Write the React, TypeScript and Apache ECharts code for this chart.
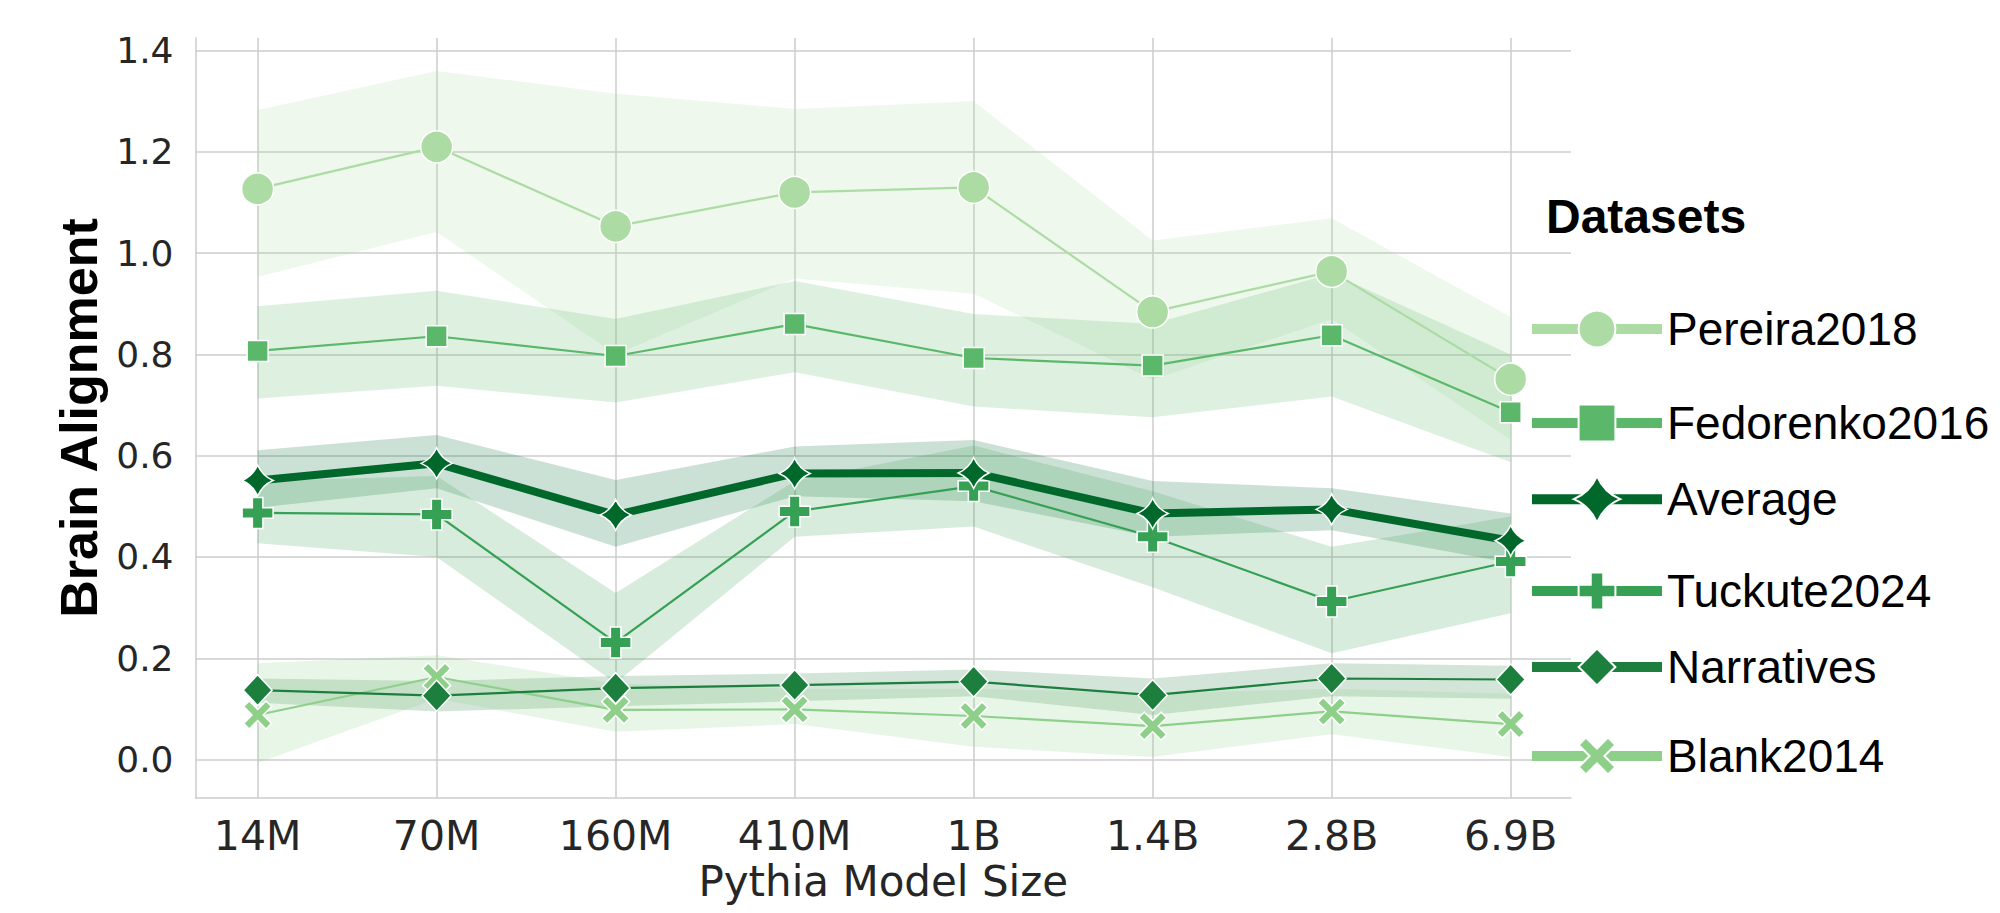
import React, { useEffect, useRef } from "react";
import * as echarts from "echarts";

// ---------------- data ----------------
const categories = ["14M", "70M", "160M", "410M", "1B", "1.4B", "2.8B", "6.9B"];
const yTickValues = [0, 0.2, 0.4, 0.6, 0.8, 1.0, 1.2, 1.4];

const seriesNames = ["Pereira2018", "Fedorenko2016", "Average", "Tuckute2024", "Narratives", "Blank2014"];

const pereiraMean = [1.127, 1.21, 1.053, 1.12, 1.13, 0.884, 0.964, 0.751];
const pereiraLow = [0.953, 1.042, 0.8, 0.95, 0.92, 0.75, 0.87, 0.631];
const pereiraHigh = [1.283, 1.36, 1.315, 1.285, 1.3, 1.025, 1.069, 0.874];

const fedorenkoMean = [0.807, 0.836, 0.797, 0.86, 0.793, 0.778, 0.838, 0.686];
const fedorenkoLow = [0.713, 0.738, 0.705, 0.765, 0.697, 0.676, 0.717, 0.587];
const fedorenkoHigh = [0.895, 0.926, 0.87, 0.945, 0.88, 0.86, 0.96, 0.8];

const averageMean = [0.551, 0.585, 0.483, 0.565, 0.566, 0.486, 0.494, 0.432];
const averageLow = [0.497, 0.536, 0.42, 0.52, 0.51, 0.44, 0.453, 0.388];
const averageHigh = [0.611, 0.641, 0.552, 0.618, 0.631, 0.55, 0.536, 0.486];

const tuckuteMean = [0.487, 0.484, 0.231, 0.49, 0.54, 0.44, 0.312, 0.391];
const tuckuteLow = [0.427, 0.4, 0.151, 0.44, 0.46, 0.34, 0.21, 0.289];
const tuckuteHigh = [0.55, 0.56, 0.329, 0.55, 0.62, 0.53, 0.42, 0.48];

const narrativesMean = [0.137, 0.126, 0.141, 0.147, 0.154, 0.127, 0.16, 0.158];
const narrativesLow = [0.112, 0.095, 0.105, 0.115, 0.125, 0.088, 0.125, 0.12];
const narrativesHigh = [0.16, 0.155, 0.165, 0.17, 0.178, 0.16, 0.19, 0.185];

const blankMean = [0.088, 0.163, 0.098, 0.099, 0.086, 0.066, 0.095, 0.07];
const blankLow = [-0.007, 0.12, 0.055, 0.07, 0.025, 0.005, 0.05, 0.005];
const blankHigh = [0.19, 0.206, 0.15, 0.14, 0.14, 0.13, 0.14, 0.13];

// ---------------- styles ----------------
const STAR = "path://M0,-10 Q3,-3 10,0 Q3,3 0,10 Q-3,3 -10,0 Q-3,-3 0,-10 Z";
const PLUS = "path://M-3.4,-10 L3.4,-10 L3.4,-3.4 L10,-3.4 L10,3.4 L3.4,3.4 L3.4,10 L-3.4,10 L-3.4,3.4 L-10,3.4 L-10,-3.4 L-3.4,-3.4 Z";
const CROSS = "path://M-10,-6 L-6,-10 L0,-4 L6,-10 L10,-6 L4,0 L10,6 L6,10 L0,4 L-6,10 L-10,6 L-4,0 Z";

const styleOf: Record<string, any> = {
  Pereira2018: { color: "#acdca4", symbol: "circle", size: 32, width: 2.2, z: 3 },
  Fedorenko2016: { color: "#5bb86a", symbol: "rect", size: 21, width: 2.2, z: 3 },
  Average: { color: "#00682b", symbol: STAR, size: 31, width: 8, z: 6 },
  Tuckute2024: { color: "#36a055", symbol: PLUS, size: 31, width: 2.2, z: 3 },
  Narratives: { color: "#1d7f3e", symbol: "diamond", size: [29, 31], width: 2.2, z: 5 },
  Blank2014: { color: "#8ed08a", symbol: CROSS, size: 28, width: 2.2, z: 4 },
};

const legendCenters = [329, 423, 504, 591, 667, 756];
const legendItemHeights = [46, 46, 58, 46, 46, 46];

const TICK_FONT = "DejaVu Sans";
const LEGEND_FONT = "Liberation Sans, Arial, sans-serif";

export default function App() {
  const ref = useRef<HTMLDivElement>(null);

  useEffect(() => {
    if (!ref.current) return;
    const chart = echarts.init(ref.current, undefined, { renderer: "svg" });

    const datasets = [
      { name: "Pereira2018", mean: pereiraMean, low: pereiraLow, high: pereiraHigh },
      { name: "Fedorenko2016", mean: fedorenkoMean, low: fedorenkoLow, high: fedorenkoHigh },
      { name: "Average", mean: averageMean, low: averageLow, high: averageHigh },
      { name: "Tuckute2024", mean: tuckuteMean, low: tuckuteLow, high: tuckuteHigh },
      { name: "Narratives", mean: narrativesMean, low: narrativesLow, high: narrativesHigh },
      { name: "Blank2014", mean: blankMean, low: blankLow, high: blankHigh },
    ];

    const bandSeries = datasets.map((d) => {
      const st = styleOf[d.name];
      return {
        type: "custom",
        name: d.name + " CI",
        silent: true,
        z: 1,
        data: d.low.map((l, i) => [i, l, d.high[i]]),
        encode: { x: 0, y: [1, 2] },
        renderItem: (params: any, api: any) => {
          if (params.dataIndex !== 0) return null;
          const upper = d.high.map((h, i) => api.coord([i, h]));
          const lower = d.low.map((l, i) => api.coord([i, l])).reverse();
          return {
            type: "polygon",
            shape: { points: upper.concat(lower) },
            style: { fill: st.color, opacity: 0.2 },
          };
        },
      };
    });

    const lineSeries = datasets.map((d) => {
      const st = styleOf[d.name];
      return {
        type: "line",
        name: d.name,
        data: d.mean.map((v, i) => [i, v]),
        symbol: st.symbol,
        symbolSize: st.size,
        z: st.z,
        lineStyle: { color: st.color, width: st.width },
        itemStyle: { color: st.color, borderColor: "#ffffff", borderWidth: 1.5 },
        emphasis: { disabled: true },
        silent: true,
      };
    });

    const xIdx = categories.map((_, i) => i);

    const option: any = {
      animation: false,
      backgroundColor: "#ffffff",
      title: {
        text: "Datasets",
        left: 1546,
        top: 192,
        padding: 0,
        textStyle: { fontSize: 48, fontWeight: "bold", color: "#000000", fontFamily: LEGEND_FONT },
      },
      legend: seriesNames.map((n, i) => ({
        data: [n],
        left: 1527,
        top: legendCenters[i] - legendItemHeights[i] / 2,
        padding: 0,
        orient: "vertical",
        itemWidth: 130,
        itemHeight: legendItemHeights[i],
        selectedMode: false,
        lineStyle: { width: 10 },
        textStyle: { fontSize: 46, color: "#000000", fontFamily: LEGEND_FONT },
      })),
      grid: { left: 195.5, right: 429, top: 38, bottom: 115, containLabel: false, outerBoundsMode: "none" },
      xAxis: {
        type: "value",
        min: -0.347,
        max: 7.337,
        axisLine: { show: true, onZero: false, lineStyle: { color: "#cccccc", width: 1.5 } },
        axisTick: { show: false, customValues: xIdx },
        axisLabel: {
          customValues: xIdx,
          formatter: (v: number) => categories[Math.round(v)] ?? "",
          fontSize: 41,
          color: "#262626",
          fontFamily: TICK_FONT,
          margin: 17,
        },
        splitLine: { show: true, lineStyle: { color: "#cccccc", width: 1.5 } },
        name: "Pythia Model Size",
        nameLocation: "middle",
        nameGap: 62,
        nameTextStyle: { fontSize: 42, color: "#262626", fontFamily: TICK_FONT },
      },
      yAxis: {
        type: "value",
        min: -0.076,
        max: 1.425,
        axisLine: { show: true, onZero: false, lineStyle: { color: "#cccccc", width: 1.5 } },
        axisTick: { show: false, customValues: yTickValues },
        axisLabel: {
          customValues: yTickValues,
          formatter: (v: number) => v.toFixed(1),
          fontSize: 36,
          color: "#262626",
          fontFamily: TICK_FONT,
          margin: 22,
        },
        splitLine: { show: true, lineStyle: { color: "#cccccc", width: 1.5 } },
        name: "Brain Alignment",
        nameLocation: "middle",
        nameRotate: 90,
        nameGap: 70,
        nameTextStyle: { fontSize: 52, fontWeight: "bold", color: "#000000", fontFamily: LEGEND_FONT },
      },
      series: [...bandSeries, ...lineSeries],
    };

    chart.setOption(option);
    return () => chart.dispose();
  }, []);

  return (
    <div
      ref={ref}
      style={{ position: "fixed", left: 0, top: 0, width: 2000, height: 913, background: "#fff" }}
    />
  );
}
